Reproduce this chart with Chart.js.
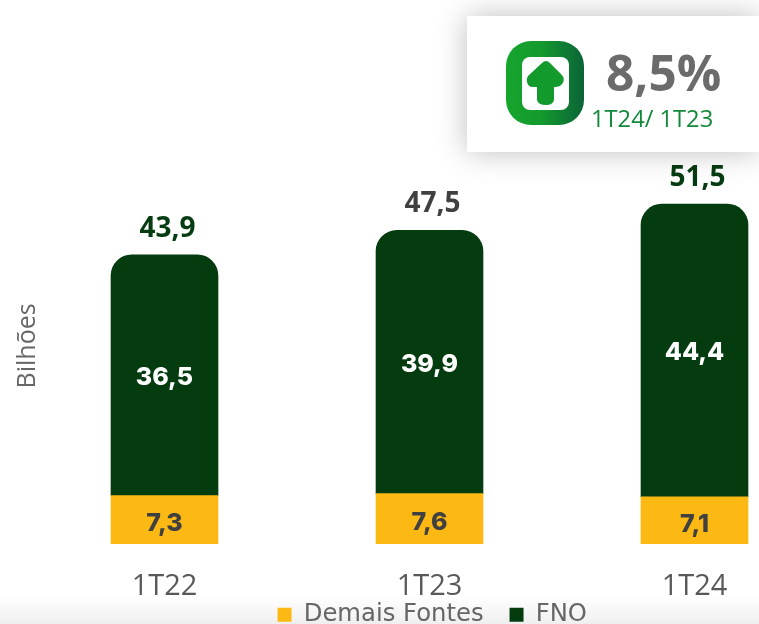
<!DOCTYPE html>
<html lang="pt">
<head>
<meta charset="utf-8">
<title>Bilhões</title>
<script src="https://cdn.jsdelivr.net/npm/chart.js@4"></script>
<style>
html,body{margin:0;padding:0;background:#fff;width:759px;height:624px;overflow:hidden}
#fade{position:absolute;left:0;top:596px;width:759px;height:28px;background:linear-gradient(#fff,#efefef)}
#wrap{position:absolute;left:0;top:0;width:759px;height:624px}
#card{position:absolute;left:467px;top:16px;width:292px;height:136px;background:#fff;box-shadow:0 0 28px rgba(0,0,0,.26)}
#icon{position:absolute;left:39px;top:25px}
#pct{position:absolute;left:139px;top:22px;font:700 49.5px/68px "Open Sans";color:#6b6b6b;white-space:nowrap}
#sub{position:absolute;left:124px;top:86px;font:400 23.7px/32px "Open Sans";color:#138a3a;white-space:nowrap}
</style>
</head>
<body>
<div id="fade"></div>
<div id="wrap"><canvas id="c" width="759" height="624"></canvas></div>
<div id="card">
  <svg id="icon" width="78" height="84" viewBox="0 0 78 84">
    <defs><linearGradient id="g" x1="0" x2="1" y1="0" y2="0">
      <stop offset="0" stop-color="#15a52c"/><stop offset=".45" stop-color="#149a2e"/><stop offset="1" stop-color="#0a6437"/></linearGradient></defs>
    <rect width="78" height="84" rx="25" fill="url(#g)"/>
    <rect x="16" y="16" width="47" height="53" rx="8" fill="#fff"/>
    <path d="M40 20 Q42 20 44 22 L55 33 Q60 38 56 43 Q54 46 49 46 L48 46 L48 59 Q47 64 40 64 Q32 64 31 59 L31 46 L27 46 Q22 46 21 41 Q20 37 23 34 L36 22 Q38 20 40 20Z" fill="#129a2d"/>
  </svg>
  <div id="pct">8,5%</div>
  <div id="sub">1T24/ 1T23</div>
</div>
<script>
const categories = ['1T22', '1T23', '1T24'];
const demaisFontes = [7.3, 7.6, 7.1];
const fno = [36.5, 39.9, 44.4];
const totals = [43.9, 47.5, 51.5];
const totalColors = ['#063c12', '#404040', '#063c12'];
const fmt = v => v.toFixed(1).replace('.', ',');

const barLabels = {
  id: 'barLabels',
  afterDatasetsDraw(chart) {
    const ctx = chart.ctx;
    ctx.save();
    ctx.textAlign = 'center';
    ctx.textBaseline = 'middle';
    const yellow = chart.getDatasetMeta(0).data;
    const green = chart.getDatasetMeta(1).data;
    categories.forEach((c, i) => {
      ctx.font = '800 25px Inter';
      ctx.fillStyle = '#404040';
      ctx.fillText(fmt(demaisFontes[i]), yellow[i].x, (yellow[i].y + yellow[i].base) / 2 + 4);
      ctx.fillStyle = '#ffffff';
      ctx.fillText(fmt(fno[i]), green[i].x, (green[i].y + green[i].base) / 2 + 2);
      ctx.font = '700 28px "Open Sans"';
      ctx.fillStyle = totalColors[i];
      ctx.fillText(fmt(totals[i]), green[i].x + 3, green[i].y - 26);
    });
    ctx.restore();
  }
};
const shiftLegend = {
  id: 'shiftLegend',
  afterLayout(chart) {
    chart.legend.left += 78.5;
    chart.legend.right += 78.5;
    chart.legend.top += 13;
    chart.legend.bottom += 13;
    chart.scales.x.bottom += 60;
  }
};

new Chart(document.getElementById('c'), {
  type: 'bar',
  data: {
    labels: categories,
    datasets: [
      { label: 'Demais Fontes', data: demaisFontes, backgroundColor: '#fdb913', barThickness: 107, clip: false, borderRadius: 0 },
      { label: 'FNO', data: fno, backgroundColor: '#043c10', barThickness: 107, clip: false,
        borderSkipped: false, borderRadius: { topLeft: 21, topRight: 21, bottomLeft: 0, bottomRight: 0 } }
    ]
  },
  plugins: [barLabels, shiftLegend],
  options: {
    responsive: false,
    animation: false,
    layout: { padding: { left: 13, right: 64.5, top: 148, bottom: 0 } },
    plugins: {
      tooltip: { enabled: false },
      legend: {
        position: 'bottom',
        labels: { usePointStyle: true, pointStyle: 'rect', pointStyleWidth: 14, boxHeight: 14, padding: 26,
                  font: { family: 'DejaVu Sans', size: 24.3 }, color: '#666666' }
      }
    },
    scales: {
      x: {
        stacked: true,
        offset: false,
        grid: { display: false },
        border: { display: false },
        ticks: { padding: 18, font: { family: 'Open Sans', size: 29 }, color: '#595959', maxRotation: 0 },
        afterFit(s) { s.height = 20; }
      },
      y: {
        stacked: true,
        min: 0,
        max: 60,
        grid: { display: false },
        border: { display: false },
        ticks: { display: false },
        title: { display: true, text: 'Bilhões', font: { family: 'Open Sans', size: 25 }, color: '#666666', padding: 0 },
        afterFit(s) { s.width = 151.5; }
      }
    }
  }
});
</script>
</body>
</html>
